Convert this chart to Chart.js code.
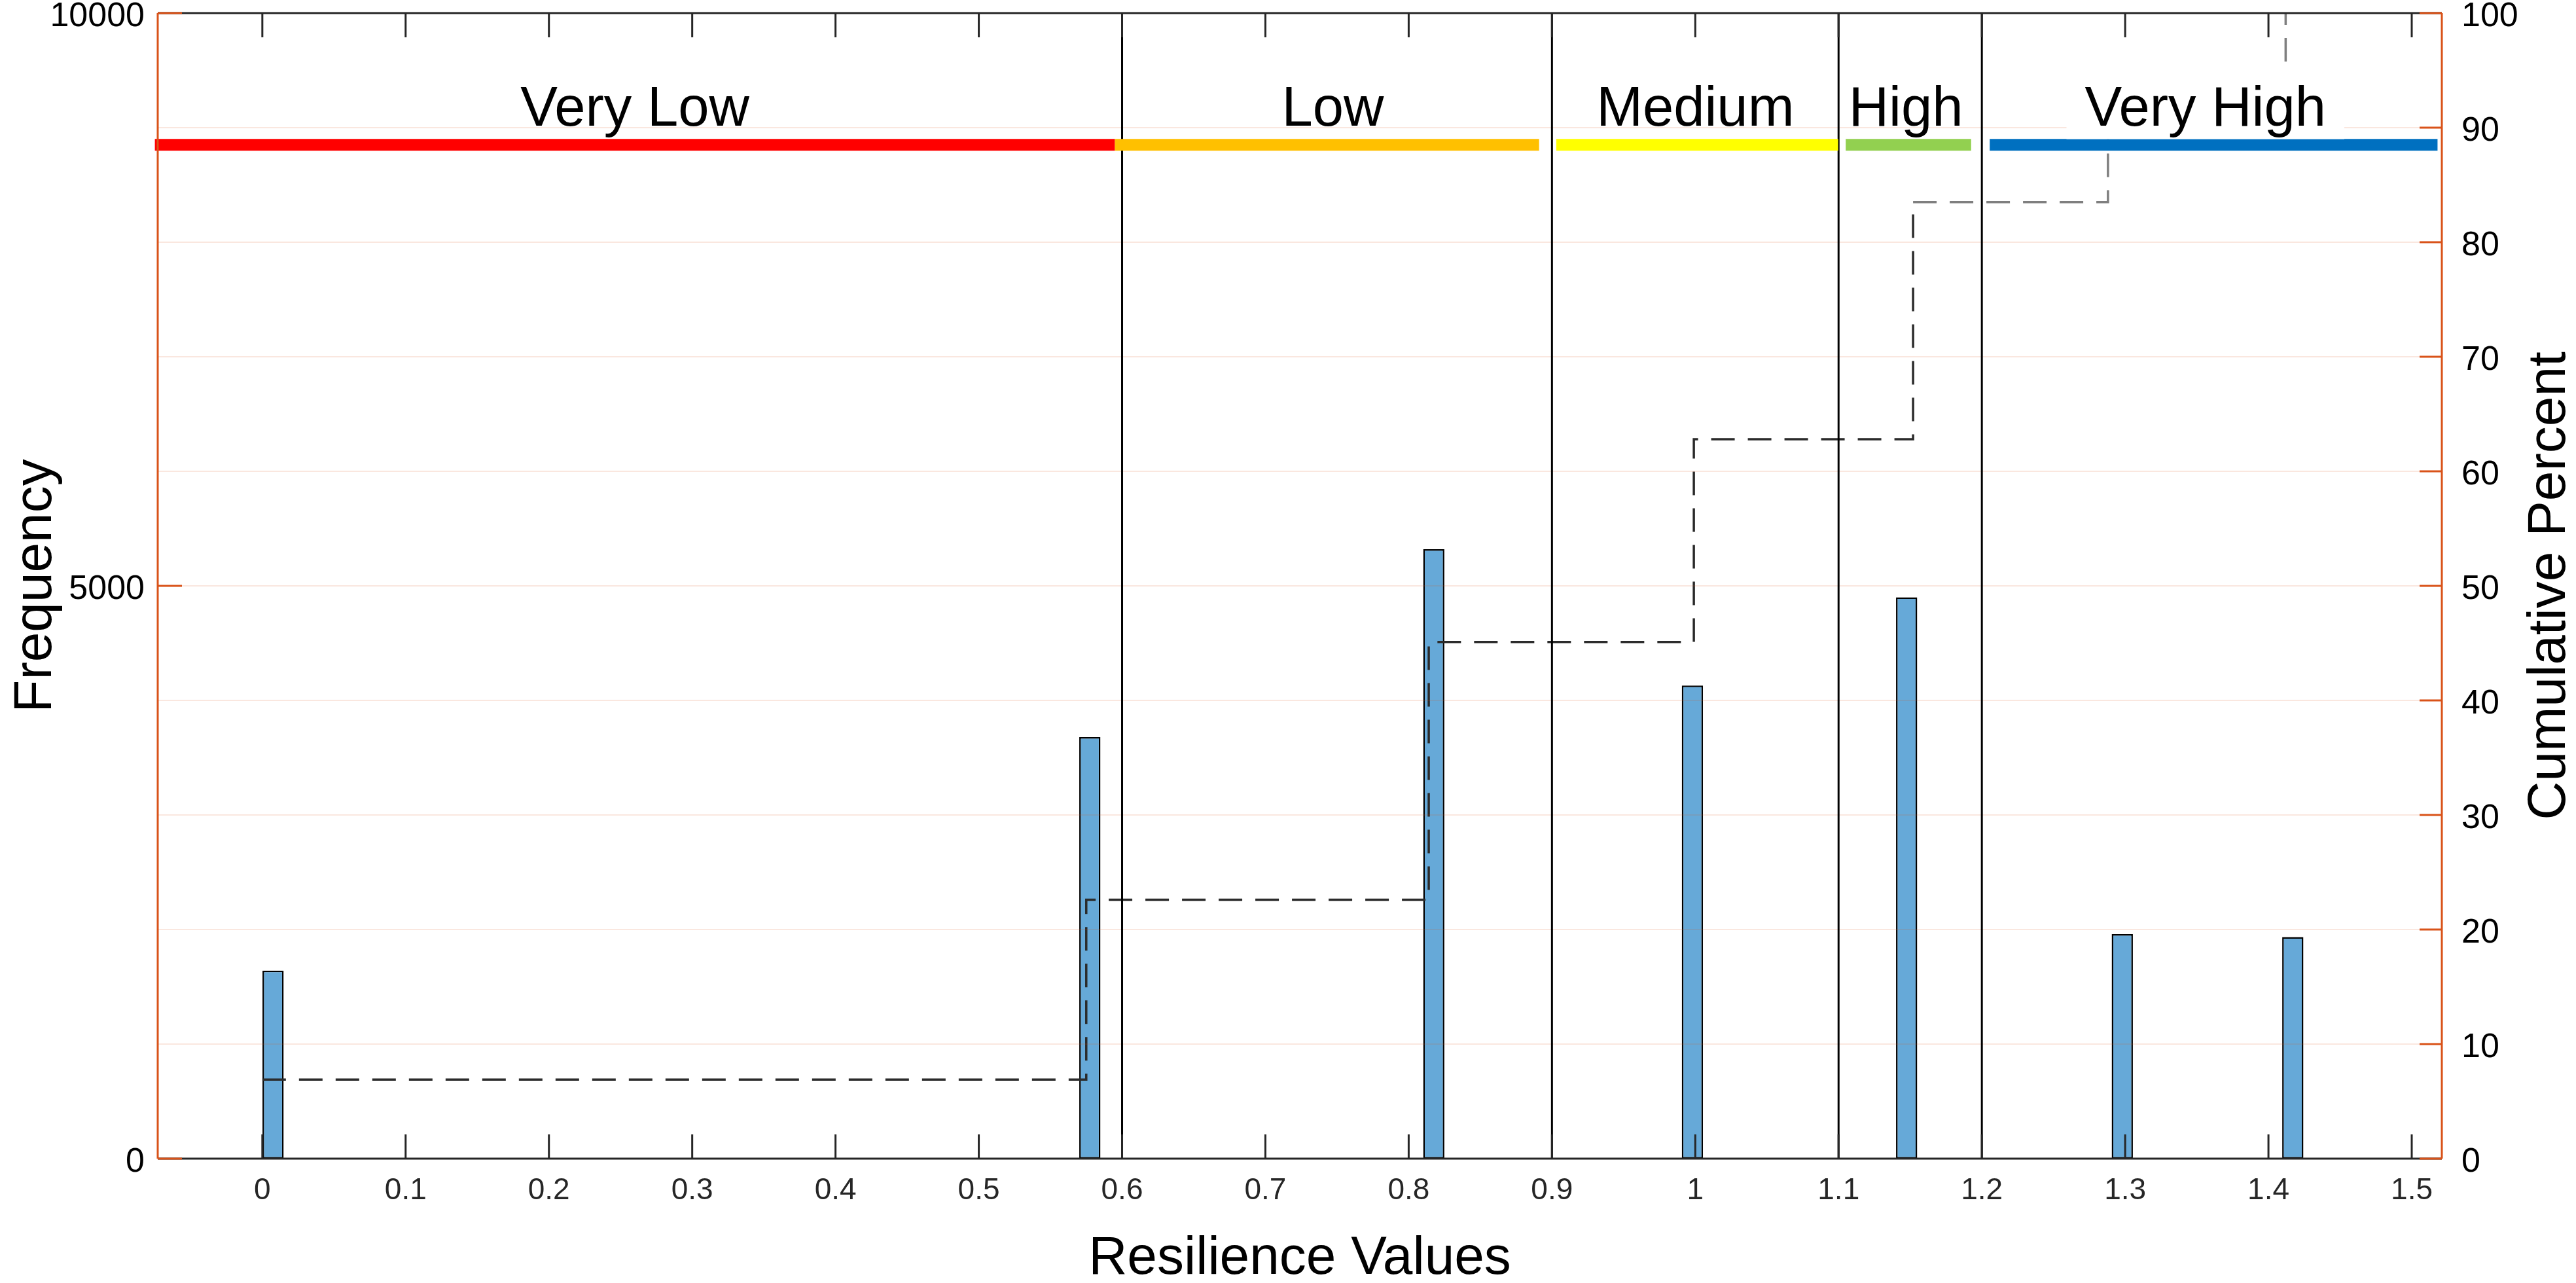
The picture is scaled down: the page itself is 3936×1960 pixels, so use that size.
<!DOCTYPE html>
<html>
<head>
<meta charset="utf-8">
<script src="https://cdn.jsdelivr.net/npm/chart.js@4.4.1/dist/chart.umd.min.js"></script>
<style>
  html, body { margin: 0; padding: 0; background: #fff; }
  #wrap { width: 3936px; height: 1960px; }
</style>
</head>
<body>
<div id="wrap"><canvas id="hist" width="3936" height="1960"></canvas></div>
<script>
// resilience histogram + cumulative percent

// histogram bins (centre of bin, count)
const binCentres = [0.0075, 0.5775, 0.8175, 0.998, 1.1475, 1.298, 1.417];
const binCounts = [1641, 3680, 5320, 4130, 4900, 1960, 1935];
const binWidth = 0.0148;

// cumulative percent (step positions and levels)
const cumX = [0, 0.575, 0.814, 0.999, 1.152, 1.288, 1.412];
const cumPct = [6.9, 22.6, 45.1, 62.8, 83.5, 91.8, 100];

// resilience classes
const classBreaks = [0.6, 0.9, 1.1, 1.2];
const classNames = ['Very Low', 'Low', 'Medium', 'High', 'Very High'];
const classLabelX = [0.26, 0.747, 1.0, 1.147, 1.356];
const bandFrom = [-0.075, 0.595, 0.903, 1.105, 1.2055];
const bandTo = [0.595, 0.891, 1.0997, 1.1925, 1.518];
const bandColors = ['#ff0000', '#ffc000', '#ffff00', '#92d050', '#0070c0'];
const bandLevel = 88.5;

// ticks
const xTicks = [0, 0.1, 0.2, 0.3, 0.4, 0.5, 0.6, 0.7, 0.8, 0.9, 1, 1.1, 1.2, 1.3, 1.4, 1.5];
const freqTicks = [0, 5000, 10000];
const pctTicks = [0, 10, 20, 30, 40, 50, 60, 70, 80, 90, 100];

const FONT = '"Liberation Sans", Arial, Helvetica, sans-serif';
const ORANGE = '#d95319';
const DARK = '#262626';

Chart.defaults.font.family = FONT;

function line(ctx, x1, y1, x2, y2) {
    ctx.beginPath();
    ctx.moveTo(x1, y1);
    ctx.lineTo(x2, y2);
    ctx.stroke();
}

// fixed axis width, no extra padding from the end labels
function fixWidth(w) {
    return s => {
        s.width = w;
        s.paddingTop = 0;
        s.paddingBottom = 0;
    };
}

// everything matlab draws on top: grid, class lines, bands, labels, box
const overlay = {
    id: 'overlay',
    afterDatasetsDraw(chart) {
        const { ctx, chartArea: a } = chart;
        const x = chart.scales.x, y = chart.scales.y, y2 = chart.scales.y2;
        ctx.save();

        // faint grid of the right axis
        ctx.strokeStyle = 'rgba(217,83,25,0.14)';
        ctx.lineWidth = 2;
        pctTicks.slice(1, -1).forEach(v => {
            const py = y2.getPixelForValue(v);
            line(ctx, a.left, py, a.right, py);
        });

        // class boundaries
        ctx.strokeStyle = '#000';
        ctx.lineWidth = 3;
        classBreaks.forEach(v => {
            const px = x.getPixelForValue(v);
            line(ctx, px, a.top, px, a.bottom);
        });

        // coloured bands
        ctx.lineWidth = 18;
        ctx.lineCap = 'butt';
        const by = y2.getPixelForValue(bandLevel);
        bandColors.forEach((c, i) => {
            ctx.strokeStyle = c;
            line(ctx, x.getPixelForValue(bandFrom[i]), by, x.getPixelForValue(bandTo[i]), by);
        });

        // class names
        ctx.font = '85px ' + FONT;
        ctx.textAlign = 'center';
        ctx.textBaseline = 'alphabetic';
        classNames.forEach((name, i) => {
            const px = x.getPixelForValue(classLabelX[i]);
            if (i === classNames.length - 1) {
                const w = ctx.measureText(name).width;
                const top = y2.getPixelForValue(95.7);
                ctx.fillStyle = '#fff';
                ctx.fillRect(px - w / 2 - 28, top, w + 56, y2.getPixelForValue(89.0) - top);
            }
            ctx.fillStyle = '#000';
            ctx.fillText(name, px, y2.getPixelForValue(90.2));
        });

        // box lines
        ctx.lineWidth = 3;
        ctx.strokeStyle = DARK;
        line(ctx, a.left, a.top, a.right, a.top);
        line(ctx, a.left, a.bottom, a.right, a.bottom);
        xTicks.forEach(v => {
            const px = x.getPixelForValue(v);
            line(ctx, px, a.bottom, px, a.bottom - 37);
            line(ctx, px, a.top, px, a.top + 37);
        });
        ctx.strokeStyle = ORANGE;
        line(ctx, a.left, a.top, a.left, a.bottom);
        line(ctx, a.right, a.top, a.right, a.bottom);
        freqTicks.forEach(v => {
            const py = y.getPixelForValue(v);
            line(ctx, a.left, py, a.left + 37, py);
        });
        pctTicks.forEach(v => {
            const py = y2.getPixelForValue(v);
            line(ctx, a.right, py, a.right - 34, py);
        });

        // right axis title reads bottom to top
        ctx.translate(3896, (a.top + a.bottom) / 2);
        ctx.rotate(-Math.PI / 2);
        ctx.font = '82px ' + FONT;
        ctx.textBaseline = 'middle';
        ctx.fillStyle = '#000';
        ctx.fillText('Cumulative Percent', 0, 0);

        ctx.restore();
    }
};

new Chart(document.getElementById('hist'), {
    type: 'bar',
    data: {
        datasets: [
            {
                type: 'line',
                data: cumX.map((v, i) => ({ x: v, y: cumPct[i] })),
                yAxisID: 'y2',
                stepped: true,
                borderColor: '#2b2b2b',
                borderWidth: 3.5,
                borderDash: [36, 20],
                pointRadius: 0,
                fill: false,
                order: 1,
                segment: {
                    borderColor: ctx => ctx.p0.parsed.x >= 1.1 ? '#7f7f7f' : '#2b2b2b'
                }
            },
            {
                type: 'bar',
                data: binCentres.map((v, i) => ({ x: v, y: binCounts[i] })),
                yAxisID: 'y',
                backgroundColor: '#66a9d8',
                borderColor: '#000',
                borderWidth: 2.5,
                borderSkipped: false,
                categoryPercentage: 1,
                barPercentage: binWidth / 0.1,
                order: 2
            }
        ]
    },
    options: {
        responsive: false,
        devicePixelRatio: 1,
        animation: false,
        layout: {
            padding: { top: 20, left: 0, right: 0, bottom: 0 }
        },
        scales: {
            x: {
                type: 'linear',
                offset: false,
                min: -0.073,
                max: 1.521,
                afterBuildTicks: s => { s.ticks = xTicks.map(v => ({ value: v })); },
                afterFit: s => { s.height = 190; },
                ticks: {
                    color: DARK,
                    font: { size: 46 },
                    padding: 22,
                    maxRotation: 0,
                    autoSkip: false,
                    callback: v => String(v)
                },
                grid: { display: false, drawTicks: false, offset: false },
                border: { display: false },
                title: {
                    display: true,
                    text: 'Resilience Values',
                    color: '#000',
                    font: { size: 82, lineHeight: 0.9 },
                    padding: { top: 0, bottom: 0 }
                }
            },
            y: {
                position: 'left',
                min: 0,
                max: 10000,
                afterBuildTicks: s => { s.ticks = freqTicks.map(v => ({ value: v })); },
                afterFit: fixWidth(241),
                ticks: {
                    color: '#000',
                    font: { size: 52 },
                    padding: 20,
                    labelOffset: 6,
                    callback: v => String(v)
                },
                grid: { display: false, drawTicks: false },
                border: { display: false },
                title: {
                    display: true,
                    text: 'Frequency',
                    color: '#000',
                    font: { size: 82 },
                    padding: { top: 6, bottom: 0 }
                }
            },
            y2: {
                position: 'right',
                min: 0,
                max: 100,
                afterBuildTicks: s => { s.ticks = pctTicks.map(v => ({ value: v })); },
                afterFit: fixWidth(205),
                ticks: {
                    color: '#000',
                    font: { size: 52 },
                    padding: 30,
                    labelOffset: 6,
                    callback: v => String(v)
                },
                grid: { display: false, drawTicks: false },
                border: { display: false }
            }
        },
        plugins: {
            legend: { display: false },
            tooltip: { enabled: false }
        }
    },
    plugins: [overlay]
});
</script>
</body>
</html>
